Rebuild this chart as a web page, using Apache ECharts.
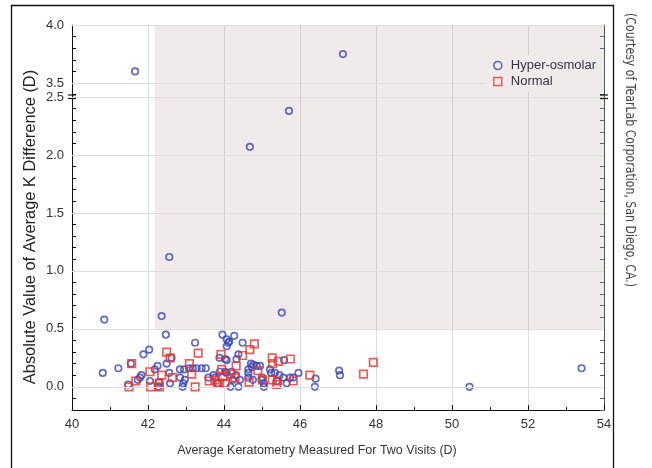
<!DOCTYPE html>
<html><head><meta charset="utf-8">
<script src="https://cdn.jsdelivr.net/npm/echarts@6/dist/echarts.min.js"></script>
<style>html,body{margin:0;padding:0;background:#fff}#c{width:652px;height:468px}</style>
</head><body><div id="c"></div>
<script>
// ---- data ----
const hyperOsmolar = [
 [40.81,0.12],[40.85,0.58],[41.22,0.16],[41.48,0.02],[41.55,0.20],[41.66,3.60],[41.73,0.06],[41.79,0.08],
 [41.83,0.10],[41.88,0.28],[42.03,0.32],[42.05,0.05],[42.18,0.15],[42.25,0.18],[42.27,0.00],[42.29,0.04],
 [42.36,0.61],[42.47,0.45],[42.49,0.20],[42.56,0.12],[42.56,1.12],[42.58,0.03],[42.62,0.25],[42.84,0.08],
 [42.84,0.15],[42.91,0.00],[42.93,0.03],[42.95,0.15],[42.97,0.06],[43.08,0.16],[43.18,0.16],[43.24,0.38],
 [43.28,0.16],[43.41,0.16],[43.52,0.16],[43.59,0.08],[43.72,0.10],[43.76,0.08],[43.83,0.03],[43.88,0.25],
 [43.89,0.13],[43.96,0.45],[44.03,0.24],[44.03,0.13],[44.07,0.35],[44.07,0.23],[44.07,0.12],[44.07,0.41],
 [44.11,0.38],[44.14,0.39],[44.17,0.00],[44.20,0.13],[44.23,0.06],[44.27,0.44],[44.32,0.10],[44.33,0.24],
 [44.38,0.28],[44.38,0.00],[44.42,0.06],[44.49,0.38],[44.64,0.15],[44.64,0.12],[44.64,0.08],[44.68,2.07],
 [44.71,0.20],[44.73,0.17],[44.76,0.06],[44.77,0.19],[44.86,0.18],[44.95,0.18],[44.99,0.06],[45.01,0.08],
 [45.05,0.03],[45.05,0.00],[45.21,0.15],[45.24,0.12],[45.34,0.12],[45.39,0.05],[45.46,0.10],[45.52,0.64],
 [45.56,0.08],[45.58,0.23],[45.65,0.03],[45.71,2.38],[45.74,0.08],[45.82,0.08],[45.96,0.12],[46.39,0.00],
 [46.41,0.07],[47.03,0.14],[47.05,0.10],[47.13,3.75],[50.46,0.00],[53.41,0.16]
];
const normal = [
 [41.50,0.00],[41.57,0.20],[41.68,0.05],[42.05,0.13],[42.07,0.00],[42.30,0.00],[42.29,0.03],[42.36,0.10],
 [42.49,0.30],[42.58,0.25],[42.64,0.08],[43.09,0.20],[43.15,0.11],[43.24,0.00],[43.32,0.29],[43.61,0.05],
 [43.76,0.06],[43.83,0.03],[43.88,0.03],[43.92,0.28],[43.94,0.15],[43.98,0.09],[44.03,0.03],[44.18,0.11],
 [44.29,0.08],[44.32,0.18],[44.49,0.27],[44.66,0.04],[44.68,0.32],[44.80,0.37],[44.89,0.14],[45.01,0.06],
 [45.27,0.25],[45.28,0.20],[45.27,0.06],[45.41,0.05],[45.39,0.02],[45.43,0.22],[45.75,0.24],[45.82,0.05],
 [46.26,0.10],[47.67,0.11],[47.93,0.21]
];
const seriesNames = ['Hyper-osmolar', 'Normal'];
const xTickLabels = [40, 42, 44, 46, 48, 50, 52, 54];
const yLabelsLow = [0.0, 0.5, 1.0, 1.5, 2.0, 2.5];
const yLabelsHigh = [3.5, 4.0];
const yTicksLow = [-0.2,-0.1,0.0,0.1,0.2,0.3,0.4,0.5,0.6,0.7,0.8,0.9,1.0,1.1,1.2,1.3,1.4,1.5,1.6,1.7,1.8,1.9,2.0,2.1,2.2,2.3,2.4,2.5];
const yTicksHigh = [3.4,3.5,3.6,3.7,3.8,3.9,4.0];
const lowRange = [-0.2, 2.5];
const highRange = [3.38, 4.0];
const shadeX = [42.18, 54];
const shadeYFrom = 0.5;
const xTitle = 'Average Keratometry Measured For Two Visits (D)';
const yTitle = 'Absolute Value of Average K Difference (D)';
const credit = '(Courtesy of TearLab Corporation, San Diego, CA.)';

// ---- styles ----
const BLUE = '#3a46b2', RED = '#e6352f';
const SHADE = '#f0eaea';
const FONT = 'Liberation Sans, Arial, sans-serif';
const gridTop = {left: 72, right: 48, top: 25, height: 72};
const gridLow = {left: 72, right: 48, top: 97, height: 313};

function yAxisCfg(grid, range, labels, ticks, right) {
  return {
    type: 'value', gridIndex: grid, min: range[0], max: range[1], position: right ? 'right' : 'left',
    axisLine: {show: true, onZero: false, lineStyle: {color: right ? '#555' : '#111', width: 1}},
    axisTick: {show: true, inside: true, length: 4, customValues: ticks, lineStyle: {color: right ? '#555' : '#111'}},
    axisLabel: {show: !right, customValues: labels, formatter: v => v.toFixed(1), color: '#333', fontSize: 13, fontFamily: FONT, margin: 8},
    splitLine: {show: false}
  };
}
function xAxisCfg(grid, showLabels) {
  return {
    type: 'value', gridIndex: grid, min: xTickLabels[0], max: xTickLabels[xTickLabels.length - 1], interval: 2,
    position: showLabels ? 'bottom' : 'top',
    axisLine: {show: true, onZero: false, lineStyle: {color: showLabels ? '#111' : '#bbb', width: 1}},
    axisTick: {show: showLabels, inside: true, length: 5, lineStyle: {color: '#111'}},
    minorTick: {show: showLabels, splitNumber: 2, length: 3, lineStyle: {color: '#111'}},
    axisLabel: {show: showLabels, color: '#333', fontSize: 13, fontFamily: FONT, margin: 8, formatter: v => String(v)},
    splitLine: {show: true, lineStyle: {color: '#dcdcdc', width: 1}}
  };
}
function backSeries(xi, yi, yFrom, yTo, gridLines) {
  return {
    type: 'scatter', xAxisIndex: xi, yAxisIndex: yi, data: [], z: 1, silent: true,
    markArea: {silent: true, itemStyle: {color: 'rgba(180,150,150,0.2)'},
      data: [[{xAxis: shadeX[0], yAxis: yFrom}, {xAxis: shadeX[1], yAxis: yTo}]]},
    markLine: {silent: true, symbol: ['none', 'none'], label: {show: false},
      lineStyle: {color: '#dcdcdc', type: 'solid', width: 1},
      data: gridLines.map(v => ({yAxis: v}))}
  };
}
function pointSeries(name, xi, yi, data, color, symbol, size) {
  return {
    name, type: 'scatter', xAxisIndex: xi, yAxisIndex: yi, data, z: 3,
    symbol, symbolSize: size,
    itemStyle: {color: 'rgba(0,0,0,0)', borderColor: color, borderWidth: 1.7}
  };
}

const chart = echarts.init(document.getElementById('c'), null, {renderer: 'canvas'});
chart.setOption({
  animation: false,
  backgroundColor: '#fff',
  grid: [gridTop, gridLow],
  xAxis: [xAxisCfg(0, false), xAxisCfg(1, true)],
  yAxis: [
    yAxisCfg(0, highRange, yLabelsHigh, yTicksHigh, false),
    yAxisCfg(0, highRange, [], yTicksHigh, true),
    yAxisCfg(1, lowRange, yLabelsLow, yTicksLow, false),
    yAxisCfg(1, lowRange, [], yTicksLow, true)
  ],
  legend: {
    orient: 'vertical', left: 486, top: 55, itemWidth: 8, itemHeight: 8, itemGap: 3,
    padding: [4, 8, 4, 7], backgroundColor: SHADE, z: 10,
    textStyle: {color: '#333344', fontSize: 13, fontFamily: FONT, padding: [0, 0, 0, 4]},
    data: [
      {name: seriesNames[0], icon: 'circle', itemStyle: {color: 'rgba(0,0,0,0)', borderColor: BLUE, borderWidth: 1.6}},
      {name: seriesNames[1], icon: 'rect', itemStyle: {color: 'rgba(0,0,0,0)', borderColor: RED, borderWidth: 1.4}}
    ]
  },
  series: [
    backSeries(0, 0, highRange[0], highRange[1], yLabelsHigh),
    backSeries(1, 2, shadeYFrom, lowRange[1], yLabelsLow),
    pointSeries(seriesNames[0], 0, 0, hyperOsmolar.filter(p => p[1] >= highRange[0]), BLUE, 'circle', 6.5),
    pointSeries(seriesNames[0], 1, 2, hyperOsmolar.filter(p => p[1] <= lowRange[1]), BLUE, 'circle', 6.5),
    pointSeries(seriesNames[1], 1, 2, normal, RED, 'rect', 7.5)
  ]
});

// decorations: frame, titles, axis-break marks
const pL = chart.convertToPixel({gridIndex: 1}, [xTickLabels[0], lowRange[1]]);
const pR = chart.convertToPixel({gridIndex: 1}, [xTickLabels[xTickLabels.length - 1], lowRange[1]]);
function breakMark(x) {
  return [
    {type: 'line', shape: {x1: x - 4, y1: pL[1] - 2, x2: x + 4, y2: pL[1] - 2}, style: {stroke: '#111', lineWidth: 1.2}, z: 50},
    {type: 'line', shape: {x1: x - 4, y1: pL[1] + 1.5, x2: x + 4, y2: pL[1] + 1.5}, style: {stroke: '#111', lineWidth: 1.2}, z: 50}
  ];
}
chart.setOption({
  graphic: [
    {type: 'rect', shape: {x: 11.5, y: 5.5, width: 602, height: 480}, style: {fill: 'none', stroke: '#111', lineWidth: 1.3}, z: 40, silent: true},
    {type: 'text', x: 317, y: 451, style: {text: xTitle, font: '12.5px ' + FONT, fill: '#333', align: 'center', verticalAlign: 'middle'}},
    {type: 'text', x: 30, y: 227, rotation: Math.PI / 2, style: {text: yTitle, font: '16.4px ' + FONT, fill: '#222', align: 'center', verticalAlign: 'middle'}},
    {type: 'text', x: 630, y: 150, rotation: -Math.PI / 2, scaleX: 0.87, style: {text: credit, font: '14px "Liberation Sans Narrow", "DejaVu Sans Condensed", "Liberation Sans", sans-serif', fill: '#444', align: 'center', verticalAlign: 'middle'}}
  ].concat(breakMark(pL[0]), breakMark(pR[0]))
});
</script>
</body></html>
